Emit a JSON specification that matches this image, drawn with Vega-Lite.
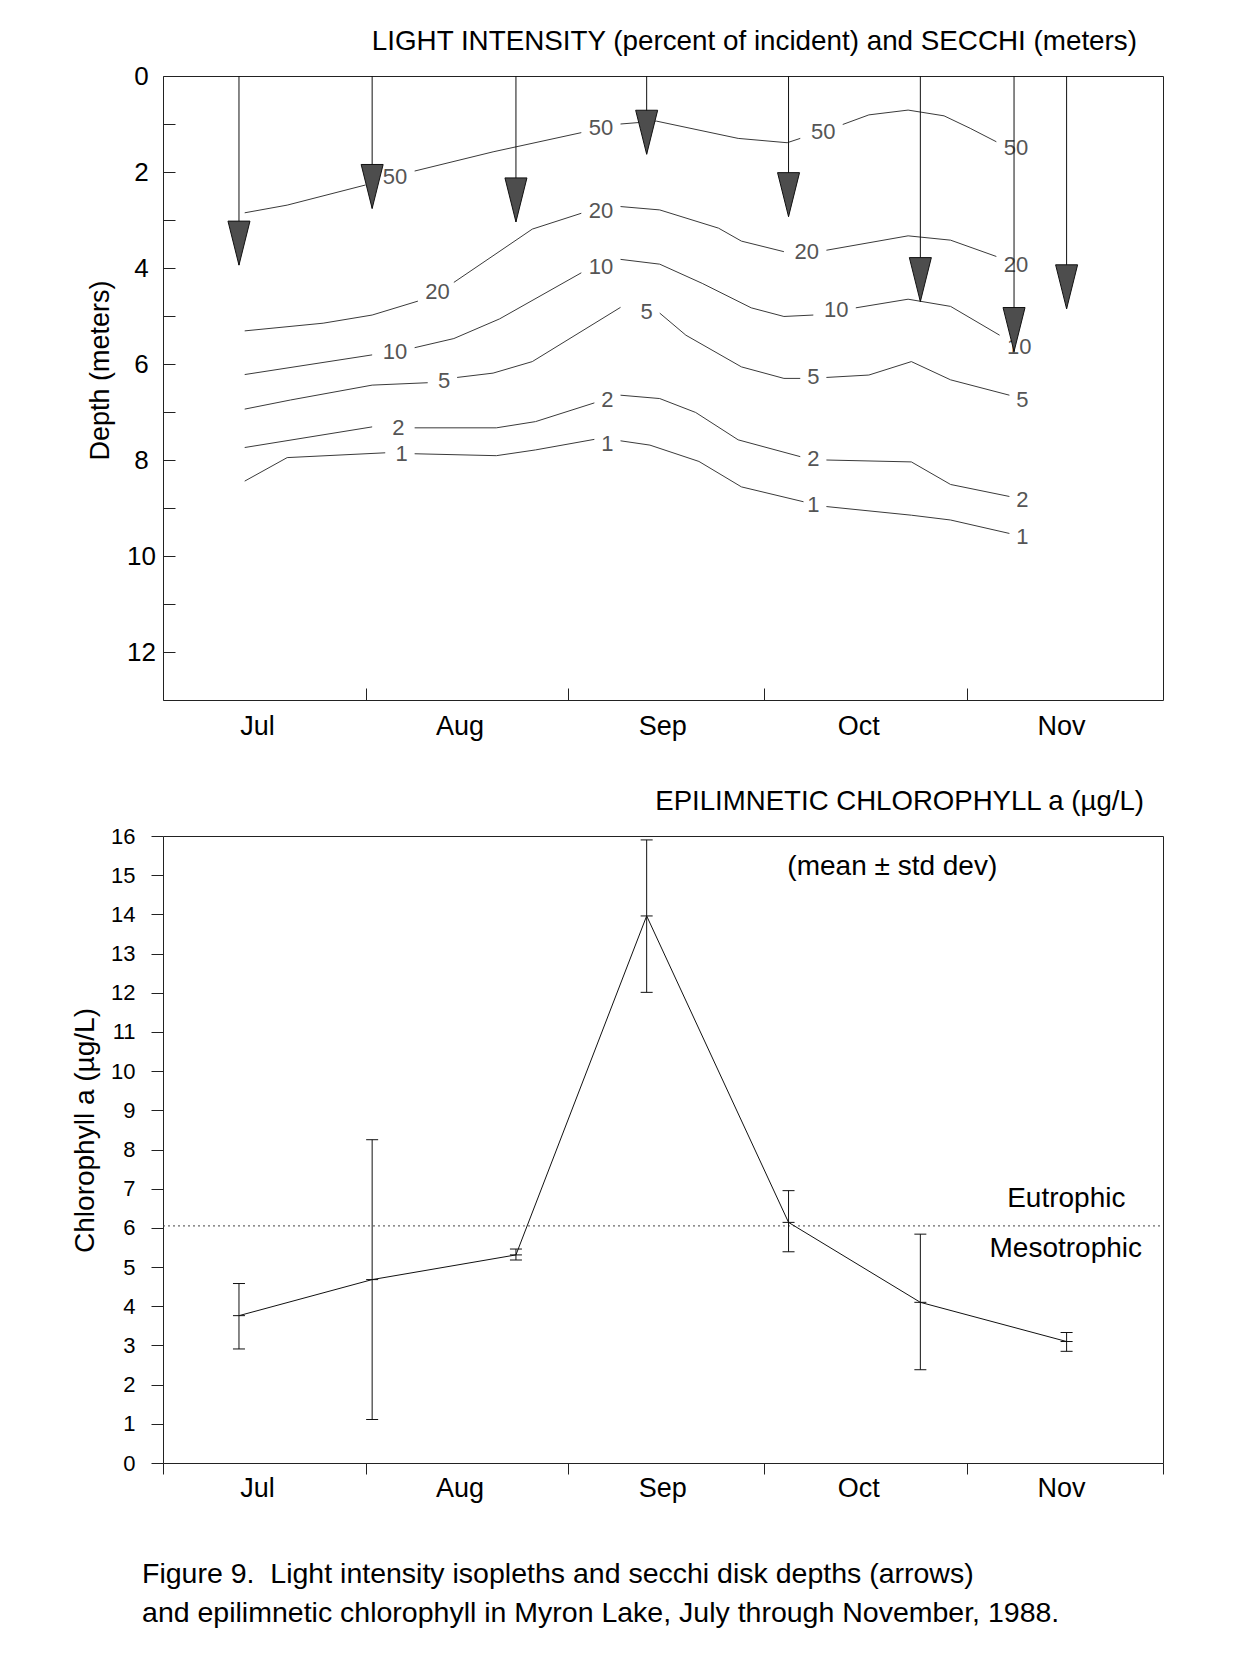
{
  "$schema": "https://vega.github.io/schema/vega-lite/v6.json",
  "background": "white",
  "padding": {"left": 71, "top": 27, "right": 10, "bottom": 10},
  "config": {
    "font": "Liberation Sans",
    "view": {"stroke": "#222", "strokeWidth": 1},
    "axis": {"grid": false, "domain": false, "tickColor": "#222", "tickWidth": 1, "labelColor": "black", "titleColor": "black", "labelFont": "Liberation Sans", "titleFont": "Liberation Sans", "titleFontWeight": "normal", "labelFlush": false, "labelOverlap": false},
    "title": {"font": "Liberation Sans", "fontWeight": "normal", "color": "black"}
  },
  "datasets": {
    "iso": [
      {"iso": "50", "seg": "50a", "date": "1988-07-13T12:00", "depth": 2.85},
      {"iso": "50", "seg": "50a", "date": "1988-07-20T00:00", "depth": 2.69},
      {"iso": "50", "seg": "50a", "date": "1988-08-01T00:00", "depth": 2.27},
      {"iso": "50", "seg": "50b", "date": "1988-08-08T12:00", "depth": 1.98},
      {"iso": "50", "seg": "50b", "date": "1988-08-20T12:00", "depth": 1.58},
      {"iso": "50", "seg": "50b", "date": "1988-09-03T00:00", "depth": 1.18},
      {"iso": "50", "seg": "50c", "date": "1988-09-09T00:00", "depth": 1.00},
      {"iso": "50", "seg": "50c", "date": "1988-09-14T12:00", "depth": 0.94},
      {"iso": "50", "seg": "50c", "date": "1988-09-27T00:00", "depth": 1.30},
      {"iso": "50", "seg": "50c", "date": "1988-10-04T12:00", "depth": 1.39},
      {"iso": "50", "seg": "50c", "date": "1988-10-06T12:00", "depth": 1.30},
      {"iso": "50", "seg": "50d", "date": "1988-10-13T00:00", "depth": 1.01},
      {"iso": "50", "seg": "50d", "date": "1988-10-17T00:00", "depth": 0.81},
      {"iso": "50", "seg": "50d", "date": "1988-10-23T00:00", "depth": 0.71},
      {"iso": "50", "seg": "50d", "date": "1988-10-28T12:00", "depth": 0.83},
      {"iso": "50", "seg": "50d", "date": "1988-11-01T12:00", "depth": 1.09},
      {"iso": "50", "seg": "50d", "date": "1988-11-05T12:00", "depth": 1.37},

      {"iso": "20", "seg": "20a", "date": "1988-07-13T12:00", "depth": 5.31},
      {"iso": "20", "seg": "20a", "date": "1988-07-25T12:00", "depth": 5.15},
      {"iso": "20", "seg": "20a", "date": "1988-08-02T00:00", "depth": 4.98},
      {"iso": "20", "seg": "20a", "date": "1988-08-09T00:00", "depth": 4.69},
      {"iso": "20", "seg": "20b", "date": "1988-08-14T12:00", "depth": 4.30},
      {"iso": "20", "seg": "20b", "date": "1988-08-26T12:00", "depth": 3.19},
      {"iso": "20", "seg": "20b", "date": "1988-09-03T00:00", "depth": 2.86},
      {"iso": "20", "seg": "20c", "date": "1988-09-09T00:00", "depth": 2.72},
      {"iso": "20", "seg": "20c", "date": "1988-09-15T00:00", "depth": 2.79},
      {"iso": "20", "seg": "20c", "date": "1988-09-24T00:00", "depth": 3.17},
      {"iso": "20", "seg": "20c", "date": "1988-09-27T12:00", "depth": 3.44},
      {"iso": "20", "seg": "20c", "date": "1988-10-04T00:00", "depth": 3.66},
      {"iso": "20", "seg": "20d", "date": "1988-10-10T12:00", "depth": 3.63},
      {"iso": "20", "seg": "20d", "date": "1988-10-23T00:00", "depth": 3.33},
      {"iso": "20", "seg": "20d", "date": "1988-10-29T12:00", "depth": 3.42},
      {"iso": "20", "seg": "20d", "date": "1988-11-05T12:00", "depth": 3.76},

      {"iso": "10", "seg": "10a", "date": "1988-07-13T12:00", "depth": 6.22},
      {"iso": "10", "seg": "10a", "date": "1988-08-02T00:00", "depth": 5.81},
      {"iso": "10", "seg": "10b", "date": "1988-08-08T12:00", "depth": 5.66},
      {"iso": "10", "seg": "10b", "date": "1988-08-14T12:00", "depth": 5.47},
      {"iso": "10", "seg": "10b", "date": "1988-08-21T12:00", "depth": 5.06},
      {"iso": "10", "seg": "10b", "date": "1988-09-03T00:00", "depth": 4.10},
      {"iso": "10", "seg": "10c", "date": "1988-09-09T00:00", "depth": 3.82},
      {"iso": "10", "seg": "10c", "date": "1988-09-15T00:00", "depth": 3.92},
      {"iso": "10", "seg": "10c", "date": "1988-09-21T12:00", "depth": 4.32},
      {"iso": "10", "seg": "10c", "date": "1988-09-29T00:00", "depth": 4.83},
      {"iso": "10", "seg": "10c", "date": "1988-10-04T00:00", "depth": 5.01},
      {"iso": "10", "seg": "10c", "date": "1988-10-08T12:00", "depth": 4.98},
      {"iso": "10", "seg": "10d", "date": "1988-10-15T00:00", "depth": 4.83},
      {"iso": "10", "seg": "10d", "date": "1988-10-23T00:00", "depth": 4.65},
      {"iso": "10", "seg": "10d", "date": "1988-10-29T12:00", "depth": 4.80},
      {"iso": "10", "seg": "10d", "date": "1988-11-06T00:00", "depth": 5.40},

      {"iso": "5", "seg": "5a", "date": "1988-07-13T12:00", "depth": 6.94},
      {"iso": "5", "seg": "5a", "date": "1988-07-20T12:00", "depth": 6.75},
      {"iso": "5", "seg": "5a", "date": "1988-08-02T00:00", "depth": 6.44},
      {"iso": "5", "seg": "5a", "date": "1988-08-10T12:00", "depth": 6.39},
      {"iso": "5", "seg": "5b", "date": "1988-08-15T00:00", "depth": 6.28},
      {"iso": "5", "seg": "5b", "date": "1988-08-20T12:00", "depth": 6.19},
      {"iso": "5", "seg": "5b", "date": "1988-08-26T12:00", "depth": 5.95},
      {"iso": "5", "seg": "5b", "date": "1988-09-09T00:00", "depth": 4.82},
      {"iso": "5", "seg": "5c", "date": "1988-09-15T00:00", "depth": 4.94},
      {"iso": "5", "seg": "5c", "date": "1988-09-19T00:00", "depth": 5.40},
      {"iso": "5", "seg": "5c", "date": "1988-09-27T12:00", "depth": 6.06},
      {"iso": "5", "seg": "5c", "date": "1988-10-04T00:00", "depth": 6.30},
      {"iso": "5", "seg": "5c", "date": "1988-10-06T12:00", "depth": 6.30},
      {"iso": "5", "seg": "5d", "date": "1988-10-10T12:00", "depth": 6.28},
      {"iso": "5", "seg": "5d", "date": "1988-10-17T00:00", "depth": 6.23},
      {"iso": "5", "seg": "5d", "date": "1988-10-23T12:00", "depth": 5.95},
      {"iso": "5", "seg": "5d", "date": "1988-10-29T12:00", "depth": 6.33},
      {"iso": "5", "seg": "5d", "date": "1988-11-07T12:00", "depth": 6.65},

      {"iso": "2", "seg": "2a", "date": "1988-07-13T12:00", "depth": 7.74},
      {"iso": "2", "seg": "2a", "date": "1988-08-02T00:00", "depth": 7.31},
      {"iso": "2", "seg": "2b", "date": "1988-08-08T12:00", "depth": 7.33},
      {"iso": "2", "seg": "2b", "date": "1988-08-21T00:00", "depth": 7.33},
      {"iso": "2", "seg": "2b", "date": "1988-08-27T00:00", "depth": 7.20},
      {"iso": "2", "seg": "2b", "date": "1988-09-05T00:00", "depth": 6.81},
      {"iso": "2", "seg": "2c", "date": "1988-09-09T00:00", "depth": 6.65},
      {"iso": "2", "seg": "2c", "date": "1988-09-15T00:00", "depth": 6.72},
      {"iso": "2", "seg": "2c", "date": "1988-09-20T12:00", "depth": 7.01},
      {"iso": "2", "seg": "2c", "date": "1988-09-27T00:00", "depth": 7.58},
      {"iso": "2", "seg": "2c", "date": "1988-10-06T12:00", "depth": 7.93},
      {"iso": "2", "seg": "2d", "date": "1988-10-10T12:00", "depth": 8.00},
      {"iso": "2", "seg": "2d", "date": "1988-10-23T12:00", "depth": 8.04},
      {"iso": "2", "seg": "2d", "date": "1988-10-29T12:00", "depth": 8.51},
      {"iso": "2", "seg": "2d", "date": "1988-11-07T12:00", "depth": 8.76},

      {"iso": "1", "seg": "1a", "date": "1988-07-13T12:00", "depth": 8.44},
      {"iso": "1", "seg": "1a", "date": "1988-07-20T00:00", "depth": 7.95},
      {"iso": "1", "seg": "1a", "date": "1988-08-04T00:00", "depth": 7.85},
      {"iso": "1", "seg": "1b", "date": "1988-08-08T12:00", "depth": 7.87},
      {"iso": "1", "seg": "1b", "date": "1988-08-21T00:00", "depth": 7.91},
      {"iso": "1", "seg": "1b", "date": "1988-08-27T00:00", "depth": 7.79},
      {"iso": "1", "seg": "1b", "date": "1988-09-05T00:00", "depth": 7.57},
      {"iso": "1", "seg": "1c", "date": "1988-09-09T00:00", "depth": 7.60},
      {"iso": "1", "seg": "1c", "date": "1988-09-13T12:00", "depth": 7.69},
      {"iso": "1", "seg": "1c", "date": "1988-09-21T00:00", "depth": 8.03},
      {"iso": "1", "seg": "1c", "date": "1988-09-27T12:00", "depth": 8.56},
      {"iso": "1", "seg": "1c", "date": "1988-10-07T00:00", "depth": 8.87},
      {"iso": "1", "seg": "1d", "date": "1988-10-10T12:00", "depth": 8.97},
      {"iso": "1", "seg": "1d", "date": "1988-10-23T12:00", "depth": 9.15},
      {"iso": "1", "seg": "1d", "date": "1988-10-29T12:00", "depth": 9.25},
      {"iso": "1", "seg": "1d", "date": "1988-11-07T12:00", "depth": 9.53}
    ],
    "isolab": [
      {"iso": "50", "date": "1988-08-05T12:00", "depth": 2.10},
      {"iso": "50", "date": "1988-09-06T00:00", "depth": 1.09},
      {"iso": "50", "date": "1988-10-10T00:00", "depth": 1.16},
      {"iso": "50", "date": "1988-11-08T12:00", "depth": 1.51},
      {"iso": "20", "date": "1988-08-12T00:00", "depth": 4.49},
      {"iso": "20", "date": "1988-09-06T00:00", "depth": 2.81},
      {"iso": "20", "date": "1988-10-07T12:00", "depth": 3.66},
      {"iso": "20", "date": "1988-11-08T12:00", "depth": 3.94},
      {"iso": "10", "date": "1988-08-05T12:00", "depth": 5.74},
      {"iso": "10", "date": "1988-09-06T00:00", "depth": 3.97},
      {"iso": "10", "date": "1988-10-12T00:00", "depth": 4.88},
      {"iso": "10", "date": "1988-11-09T00:00", "depth": 5.64},
      {"iso": "5", "date": "1988-08-13T00:00", "depth": 6.35},
      {"iso": "5", "date": "1988-09-13T00:00", "depth": 4.91},
      {"iso": "5", "date": "1988-10-08T12:00", "depth": 6.28},
      {"iso": "5", "date": "1988-11-09T12:00", "depth": 6.75},
      {"iso": "2", "date": "1988-08-06T00:00", "depth": 7.33},
      {"iso": "2", "date": "1988-09-07T00:00", "depth": 6.75},
      {"iso": "2", "date": "1988-10-08T12:00", "depth": 7.98},
      {"iso": "2", "date": "1988-11-09T12:00", "depth": 8.83},
      {"iso": "1", "date": "1988-08-06T12:00", "depth": 7.88},
      {"iso": "1", "date": "1988-09-07T00:00", "depth": 7.67},
      {"iso": "1", "date": "1988-10-08T12:00", "depth": 8.94},
      {"iso": "1", "date": "1988-11-09T12:00", "depth": 9.60}
    ],
    "secchi": [
      {"date": "1988-07-12T15:00", "depth": 3.94},
      {"date": "1988-08-02T00:00", "depth": 2.76},
      {"date": "1988-08-24T00:00", "depth": 3.04},
      {"date": "1988-09-13T00:00", "depth": 1.63},
      {"date": "1988-10-04T17:00", "depth": 2.93},
      {"date": "1988-10-24T21:00", "depth": 4.70},
      {"date": "1988-11-08T05:00", "depth": 5.74},
      {"date": "1988-11-16T06:00", "depth": 4.85}
    ],
    "chl": [
      {"date": "1988-07-12T15:00", "mean": 3.76, "low": 2.91, "high": 4.58},
      {"date": "1988-08-02T00:00", "mean": 4.68, "low": 1.11, "high": 8.25},
      {"date": "1988-08-24T00:00", "mean": 5.31, "low": 5.18, "high": 5.46},
      {"date": "1988-09-13T00:00", "mean": 13.96, "low": 12.01, "high": 15.90},
      {"date": "1988-10-04T17:00", "mean": 6.14, "low": 5.39, "high": 6.95},
      {"date": "1988-10-24T21:00", "mean": 4.10, "low": 2.38, "high": 5.84},
      {"date": "1988-11-16T06:00", "mean": 3.10, "low": 2.85, "high": 3.33}
    ],
    "trophic": [
      {"from": "1988-07-01T00:00", "to": "1988-12-01T00:00", "value": 6.05}
    ],
    "notes": [
      {"label": "(mean ± std dev)", "date": "1988-10-20T14:00", "value": 15.22},
      {"label": "Eutrophic", "date": "1988-11-16T05:00", "value": 6.73},
      {"label": "Mesotrophic", "date": "1988-11-16T03:00", "value": 5.46}
    ]
  },
  "title": {
    "text": ["\u00a0Figure 9.\u00a0 Light intensity isopleths and secchi disk depths (arrows)", "and epilimnetic chlorophyll in Myron Lake, July through November, 1988."],
    "orient": "bottom", "anchor": "start", "fontSize": 28.5, "fontWeight": "normal", "lineHeight": 39, "offset": 58, "dx": 71
  },
  "spacing": 47,
  "vconcat": [
    {
      "width": 1000,
      "height": 624,
      "title": {"text": "LIGHT INTENSITY (percent of incident) and SECCHI (meters)", "anchor": "end", "frame": "group", "fontSize": 27.8, "offset": 7, "dx": -26},
      "encoding": {
        "x": {
          "field": "date", "type": "temporal",
          "scale": {"domain": [{"year": 1988, "month": 7, "date": 1}, {"year": 1988, "month": 12, "date": 1}]},
          "axis": {
            "title": null, "format": "%b", "labelFontSize": 27, "tickSize": -12, "labelPadding": 25, "labelOffset": 94,
            "values": [{"year": 1988, "month": 7, "date": 1}, {"year": 1988, "month": 8, "date": 1}, {"year": 1988, "month": 9, "date": 1}, {"year": 1988, "month": 10, "date": 1}, {"year": 1988, "month": 11, "date": 1}]
          }
        },
        "y": {
          "field": "depth", "type": "quantitative",
          "scale": {"domain": [0, 13], "reverse": true, "nice": false, "zero": false},
          "axis": {
            "title": "Depth (meters)", "titleFontSize": 27, "titlePadding": 12, "titleY": 294,
            "values": [0, 1, 2, 3, 4, 5, 6, 7, 8, 9, 10, 11, 12],
            "labelExpr": "datum.value % 2 == 0 ? datum.label : ''",
            "labelFontSize": 26, "tickSize": -12, "labelPadding": 34, "labelAlign": "center"
          }
        }
      },
      "layer": [
        {"data": {"name": "iso"}, "mark": {"type": "line", "stroke": "#3a3a3a", "strokeWidth": 1}, "encoding": {"detail": {"field": "seg"}}},
        {"data": {"name": "isolab"}, "mark": {"type": "text", "fontSize": 22, "color": "#555", "align": "center", "baseline": "middle"}, "encoding": {"text": {"field": "iso"}}},
        {"data": {"name": "secchi"}, "mark": {"type": "rule", "color": "#111", "strokeWidth": 1}, "encoding": {"y": {"datum": 0}, "y2": {"field": "depth"}}},
        {"data": {"name": "secchi"}, "mark": {"type": "point", "shape": "M-1,-4L1,-4L0,0Z", "filled": true, "fill": "#4d4d4d", "stroke": "#111", "strokeWidth": 1, "size": 484, "opacity": 1}}
      ]
    },
    {
      "width": 1000,
      "height": 627,
      "title": {"text": "EPILIMNETIC CHLOROPHYLL a (µg/L)", "anchor": "end", "frame": "group", "fontSize": 27.6, "offset": 9, "dx": -19},
      "encoding": {
        "x": {
          "field": "date", "type": "temporal",
          "scale": {"domain": [{"year": 1988, "month": 7, "date": 1}, {"year": 1988, "month": 12, "date": 1}]},
          "axis": {
            "title": null, "format": "%b", "labelExpr": "month(datum.value) == 11 ? '' : datum.label",
            "labelFontSize": 27, "tickSize": 11, "labelPadding": 1, "labelOffset": 94,
            "values": [{"year": 1988, "month": 7, "date": 1}, {"year": 1988, "month": 8, "date": 1}, {"year": 1988, "month": 9, "date": 1}, {"year": 1988, "month": 10, "date": 1}, {"year": 1988, "month": 11, "date": 1}, {"year": 1988, "month": 12, "date": 1}]
          }
        },
        "y": {
          "field": "mean", "type": "quantitative",
          "scale": {"domain": [0, 16], "nice": false, "zero": false},
          "axis": {
            "title": "Chlorophyll a (µg/L)", "titleFontSize": 28, "titlePadding": 11, "titleY": 294,
            "values": [0, 1, 2, 3, 4, 5, 6, 7, 8, 9, 10, 11, 12, 13, 14, 15, 16],
            "labelFontSize": 22, "tickSize": 12, "labelPadding": 16
          }
        }
      },
      "layer": [
        {"data": {"name": "trophic"}, "mark": {"type": "rule", "strokeDash": [2, 3], "color": "#444", "strokeWidth": 1}, "encoding": {"x": {"field": "from", "type": "temporal", "title": null}, "x2": {"field": "to"}, "y": {"field": "value", "type": "quantitative"}}},
        {"data": {"name": "chl"}, "mark": {"type": "line", "stroke": "#111", "strokeWidth": 1}},
        {"data": {"name": "chl"}, "mark": {"type": "rule", "color": "#111", "strokeWidth": 1}, "encoding": {"y": {"field": "low", "type": "quantitative"}, "y2": {"field": "high"}}},
        {"data": {"name": "chl"}, "mark": {"type": "point", "shape": "M-1,0L1,0", "filled": false, "stroke": "#111", "strokeWidth": 1, "size": 144, "opacity": 1}, "encoding": {"y": {"field": "low", "type": "quantitative"}}},
        {"data": {"name": "chl"}, "mark": {"type": "point", "shape": "M-1,0L1,0", "filled": false, "stroke": "#111", "strokeWidth": 1, "size": 144, "opacity": 1}, "encoding": {"y": {"field": "high", "type": "quantitative"}}},
        {"data": {"name": "chl"}, "mark": {"type": "point", "shape": "M-1,0L1,0", "filled": false, "stroke": "#111", "strokeWidth": 1, "size": 144, "opacity": 1}},
        {"data": {"name": "notes"}, "mark": {"type": "text", "fontSize": 28, "color": "black", "align": "center", "baseline": "middle"}, "encoding": {"y": {"field": "value", "type": "quantitative"}, "text": {"field": "label"}}}
      ]
    }
  ]
}
